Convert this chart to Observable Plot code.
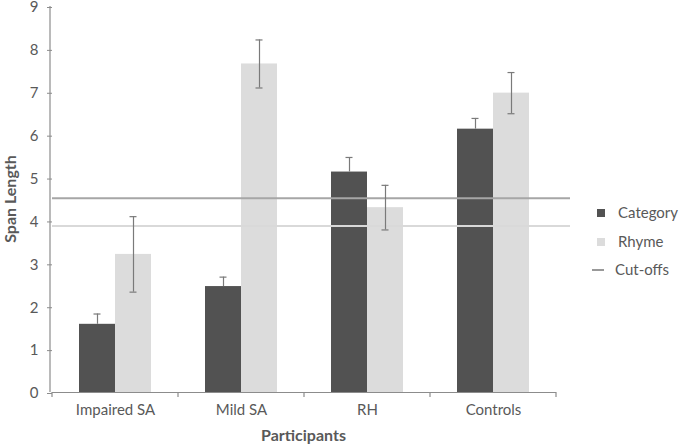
<!DOCTYPE html>
<html>
<head>
<meta charset="utf-8">
<script src="https://cdn.jsdelivr.net/npm/d3@7"></script>
<script src="https://cdn.jsdelivr.net/npm/@observablehq/plot@0.6"></script>
<style>
  html, body { margin: 0; padding: 0; background: #fff; }
  #wrap { position: relative; width: 680px; height: 448px; font-family: Lato, "Open Sans", sans-serif; color: #595959; }
  .lg { position: absolute; font-size: 15px; line-height: 16px; color: #595959; white-space: nowrap; }
  .sw { position: absolute; }
</style>
</head>
<body>
<div id="wrap"></div>
<script>
// ---- data ----
const participants = ["Impaired SA", "Mild SA", "RH", "Controls"];
const series = ["Category", "Rhyme"];
const categoryMean = [1.59, 2.47, 5.14, 6.14];
const categoryErr  = [0.24, 0.22, 0.34, 0.25];
const rhymeMean    = [3.22, 7.66, 4.31, 6.98];
const rhymeErr     = [0.88, 0.56, 0.52, 0.48];
const cutoffValues = [4.53, 3.88];
const cutoffColors = ["#a6a6a6", "#d9d9d9"];
const seriesColors = ["#525252", "#dcdcdc"];
const yTicks = [0, 1, 2, 3, 4, 5, 6, 7, 8, 9];

const rows = [];
participants.forEach((p, i) => {
  rows.push({participant: p, series: "Category", value: categoryMean[i], err: categoryErr[i], both: false});
  rows.push({participant: p, series: "Rhyme", value: rhymeMean[i], err: rhymeErr[i], both: true});
});
const cutoffRows = [];
participants.forEach(p => cutoffValues.forEach((v, i) => cutoffRows.push({participant: p, value: v, color: cutoffColors[i]})));
const lastP = participants[participants.length - 1];

const W = 680, H = 448, ML = 50, MR = 123, MT = 6, MB = 56;
const axisColor = "#8c8c8c";
const errColor = "#7a7a7a";

const plot = Plot.plot({
  width: W, height: H,
  marginLeft: ML, marginRight: MR, marginTop: MT, marginBottom: MB,
  style: {fontFamily: "Lato, 'Open Sans', sans-serif", fontSize: "15px", color: "#595959", background: "#fff", overflow: "visible"},
  fx: {domain: participants, padding: 0, label: null},
  x: {domain: series, paddingInner: 0, paddingOuter: 0.735, axis: null},
  y: {domain: [0, 9], label: null},
  color: {domain: series, range: seriesColors},
  marks: [
    Plot.axisY({ticks: yTicks, tickSize: 5, tickPadding: 9, stroke: axisColor, fill: "#595959", label: null, fontSize: 15, dy: 1}),
    Plot.axisFx({anchor: "bottom", tickSize: 0, tickPadding: 12, label: null, fill: "#595959", fontSize: 15}),
    Plot.barY(rows, {fx: "participant", x: "series", y: "value", fill: "series"}),
    Plot.ruleY(cutoffRows.filter(d => d.participant !== lastP), {fx: "participant", y: "value", stroke: "color", strokeWidth: 2}),
    Plot.ruleY(cutoffRows.filter(d => d.participant === lastP), {fx: "participant", y: "value", stroke: "color", strokeWidth: 2, insetRight: -14}),
    Plot.ruleX(rows, {fx: "participant", x: "series", y1: d => d.both ? d.value - d.err : d.value, y2: d => d.value + d.err, stroke: errColor, strokeWidth: 1.2}),
    Plot.tickY(rows, {fx: "participant", x: "series", y: d => d.value + d.err, stroke: errColor, strokeWidth: 1.2, insetLeft: 14.5, insetRight: 14.5}),
    Plot.tickY(rows.filter(d => d.both), {fx: "participant", x: "series", y: d => d.value - d.err, stroke: errColor, strokeWidth: 1.2, insetLeft: 14.5, insetRight: 14.5}),
    Plot.ruleY([0], {stroke: axisColor, strokeWidth: 1.2})
  ]
});

// axis line on the left and category-boundary ticks below, placed with the plot's own scales
const svg = d3.select(plot);
const ys = plot.scale("y");
const fxs = plot.scale("fx");
const y0 = ys.apply(0), y9 = ys.apply(9);
svg.append("line").attr("x1", ML).attr("x2", ML).attr("y1", y9).attr("y2", y0)
  .attr("stroke", axisColor).attr("stroke-width", 1.2);
const bw = fxs.bandwidth != null ? fxs.bandwidth : (W - ML - MR) / participants.length;
const bounds = participants.map(p => fxs.apply(p)).concat([fxs.apply(lastP) + bw]);
bounds.forEach(x => {
  svg.append("line").attr("x1", x).attr("x2", x).attr("y1", y0).attr("y2", y0 + 5)
    .attr("stroke", axisColor).attr("stroke-width", 1.2);
});
// axis titles
svg.append("text").attr("x", (ML + W - MR) / 2).attr("y", 437).attr("text-anchor", "middle")
  .attr("dominant-baseline", "middle").attr("font-weight", "bold").attr("fill", "#595959")
  .attr("font-size", 16).text("Participants");
svg.append("text").attr("transform", `translate(12,${(y0 + y9) / 2}) rotate(-90)`).attr("text-anchor", "middle")
  .attr("dominant-baseline", "middle").attr("font-weight", "bold").attr("fill", "#595959")
  .attr("font-size", 16).text("Span Length");

const wrap = document.getElementById("wrap");
wrap.appendChild(plot);

// legend
const legendItems = [
  {label: "Category", kind: "square", color: seriesColors[0], cy: 213},
  {label: "Rhyme", kind: "square", color: seriesColors[1], cy: 242},
  {label: "Cut-offs", kind: "line", color: "#999999", cy: 270}
];
legendItems.forEach(it => {
  const sw = document.createElement("div");
  sw.className = "sw";
  if (it.kind === "square") {
    Object.assign(sw.style, {left: "597px", top: (it.cy - 4) + "px", width: "8px", height: "8px", background: it.color});
  } else {
    Object.assign(sw.style, {left: "592px", top: (it.cy - 1) + "px", width: "12px", height: "1.5px", background: it.color});
  }
  wrap.appendChild(sw);
  const t = document.createElement("div");
  t.className = "lg";
  t.textContent = it.label;
  t.style.left = (it.kind === "square" ? 618 : 615) + "px";
  t.style.top = (it.cy - 9) + "px";
  wrap.appendChild(t);
});
</script>
</body>
</html>
